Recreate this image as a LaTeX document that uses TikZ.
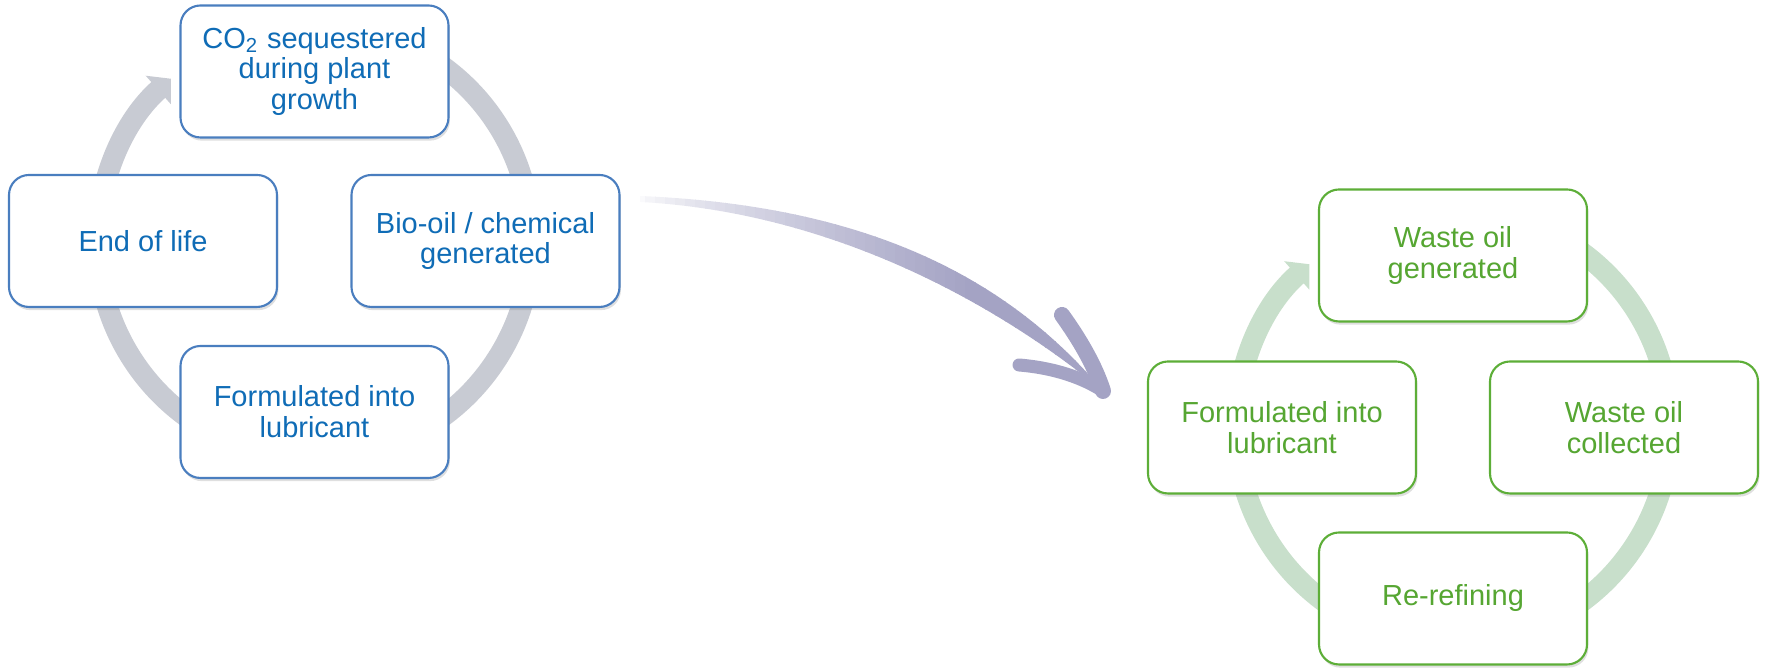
\documentclass[tikz,border=0pt]{standalone}
\usepackage{fontspec}
\setmainfont{Liberation Sans}
\usetikzlibrary{positioning, arrows.meta, shadows}

\definecolor{biotext}{HTML}{0F6CB6}
\definecolor{bioline}{HTML}{4A7EBF}
\definecolor{bioring}{HTML}{C8CBD3}
\definecolor{wastetext}{HTML}{56A632}
\definecolor{wasteline}{HTML}{5DAE38}
\definecolor{wastering}{HTML}{C8DFCB}
\definecolor{arrowc}{HTML}{A4A3C4}

\tikzset{
  cyclebox/.style={draw, fill=white, rounded corners=0.2cm, line width=0.6pt,
    minimum width=2.68cm, minimum height=1.32cm, inner sep=1pt, align=center,
    font=\fontsize{8.25}{8.8}\selectfont,
    drop shadow={shadow xshift=0.4pt, shadow yshift=-0.9pt, opacity=0.25}},
  biobox/.style={cyclebox, draw=bioline, text=biotext},
  wastebox/.style={cyclebox, draw=wasteline, text=wastetext},
  ring/.style={line width=0.21cm, -{Triangle[width=0.37cm, length=0.17cm]}},
  barb/.style={draw=arrowc, line cap=round},
}

\begin{document}
\begin{tikzpicture}
    \useasboundingbox (0,0) rectangle (17.67,6.68);
    % Left cycle
    \coordinate (lc) at (3.145,4.265);
    \draw [ring, draw=bioring] ([shift={(60:2.17)}]lc) arc [start angle=60, end angle=-228.6, radius=2.17];
    \node [biobox] (co2) at (3.145,5.965) {CO\textsubscript{2} sequestered\\during plant\\growth};
    \node [biobox] (biooil) at (4.855,4.27) {Bio-oil / chemical\\generated};
    \node [biobox] (formbio) at (3.145,2.56) {Formulated into\\lubricant};
    \node [biobox] (endlife) at (1.43,4.27) {End of life};
    % Right cycle
    \coordinate (rc) at (14.53,2.41);
    \draw [ring, draw=wastering] ([shift={(60:2.17)}]rc) arc [start angle=60, end angle=-228.6, radius=2.17];
    \node [wastebox] (wastegen) at (14.53,4.125) {Waste oil\\generated};
    \node [wastebox] (collected) at (16.24,2.405) {Waste oil\\collected};
    \node [wastebox] (rerefine) at (14.53,0.695) {Re-refining};
    \node [wastebox] (formwaste) at (12.82,2.405) {Formulated into\\lubricant};
    % Arrow (fades in from the left)
    \coordinate (arrtail) at (6.40,4.72);
    \coordinate (arrtip) at (11.03,2.77);
    \begin{scope}
        \clip (arrtail) .. controls (8.3,4.64) and (9.9,4.12) .. (arrtip)
            .. controls (9.95,3.66) and (8.3,4.56) .. ([yshift=-0.06cm]arrtail) -- cycle;
        \foreach \i in {0,...,47} {
            \pgfmathsetmacro\tint{min(100,5+95*(\i/33)^0.75)}
            \fill [arrowc!\tint] (6.35+\i*0.1,2.6) rectangle ++(0.105,2.2);
        }
    \end{scope}
    \draw [barb, line width=0.16cm] (10.62,3.53) .. controls (10.80,3.28) and (10.95,3.02) .. (arrtip);
    \draw [barb, line width=0.13cm] (10.19,3.03) .. controls (10.55,3.0) and (10.83,2.90) .. (arrtip);
\end{tikzpicture}
\end{document}
